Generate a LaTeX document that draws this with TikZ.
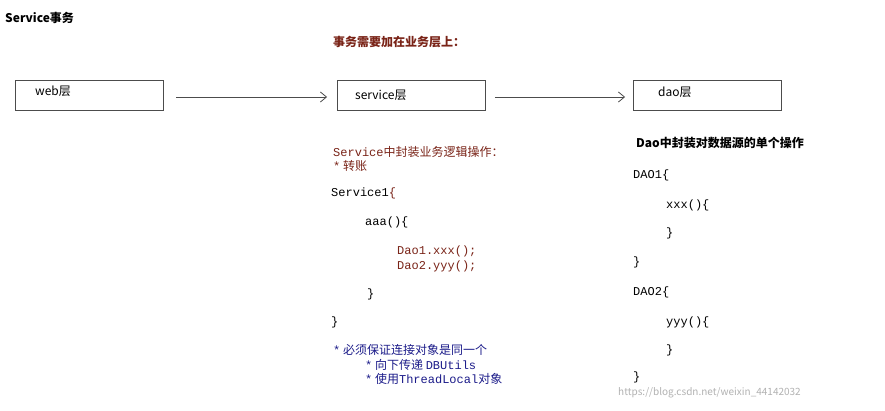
\documentclass[tikz,border=0pt]{standalone}
\usepackage{fontspec}
\usetikzlibrary{arrows.meta}
\setmainfont{Noto Sans CJK SC}
\newfontfamily\mo{Liberation Mono}
\definecolor{rb}{HTML}{7A2418}
\definecolor{nv}{HTML}{1C1C8A}
\begin{document}
\begin{tikzpicture}[x=1pt,y=-1pt,
  t/.style={anchor=west,inner sep=0pt,font=\fontsize{12}{14}\selectfont},
  box/.style={draw=black!70,line width=0.9pt,minimum width=148pt,minimum height=30pt,inner sep=0pt},
  arr/.style={draw=black!70,line width=0.8pt,-{Straight Barb[length=6pt,width=10pt]}}]
\useasboundingbox (0,0) rectangle (885,411);
\fill[white] (0,0) rectangle (885,411);
\node[t,font=\fontsize{12}{14}\selectfont\bfseries] (title) at (5,18) {Service事务};
\node[t,text=rb,font=\fontsize{12}{14}\selectfont\bfseries] (need) at (333,42) {事务需要加在业务层上：};
\node[box] (web) at (89,95) {};
\node[box] (svc) at (411.5,95) {};
\node[box] (dao) at (707.5,95) {};
\node[t] (wl) at (35,91) {web层};
\node[t] (sl) at (355,95) {service层};
\node[t] (dl) at (658,92) {dao层};
\draw[arr] ([xshift=13pt,yshift=-2pt]web.east) -- ([xshift=-10pt,yshift=-2pt]svc.west);
\draw[arr] ([xshift=9pt,yshift=-2pt]svc.east) -- ([xshift=-8pt,yshift=-2pt]dao.west);
\node[t,text=rb] (s1) at (333,152) {{\mo Service}中封装业务逻辑操作：};
\node[t,text=rb] (s2) at (333,166) {{\mo *} 转账};
\node[t] (s3) at (331,193) {\mo Service1\textcolor{rb}{\{}};
\node[t] (s4) at (365,222) {\mo aaa()\{};
\node[t,text=rb] (s5) at (397,251) {\mo Dao1.xxx();};
\node[t,text=rb] (s6) at (397,266) {\mo Dao2.yyy();};
\node[t] (s7) at (367,294) {\mo \}};
\node[t] (s8) at (331,322) {\mo \}};
\node[t,text=nv] (b1) at (333,350) {{\mo *} 必须保证连接对象是同一个};
\node[t,text=nv] (b2) at (365,365) {{\mo *} 向下传递 {\mo DBUtils}};
\node[t,text=nv] (b3) at (365,379) {{\mo *} 使用{\mo ThreadLocal}对象};
\node[t,font=\fontsize{12}{14}\selectfont\bfseries] (d0) at (636,143) {Dao中封装对数据源的单个操作};
\node[t] (d1) at (633,175) {\mo DAO1\{};
\node[t] (d2) at (666,205) {\mo xxx()\{};
\node[t] (d3) at (666,233) {\mo \}};
\node[t] (d4) at (633,262) {\mo \}};
\node[t] (d5) at (633,292) {\mo DAO2\{};
\node[t] (d6) at (666,322) {\mo yyy()\{};
\node[t] (d7) at (666,350) {\mo \}};
\node[t] (d8) at (633,377) {\mo \}};
\node[t,text=black!30,font=\fontsize{10}{12}\selectfont] (wm) at (618,393) {https://blog.csdn.net/weixin\_44142032};
\end{tikzpicture}
\end{document}
